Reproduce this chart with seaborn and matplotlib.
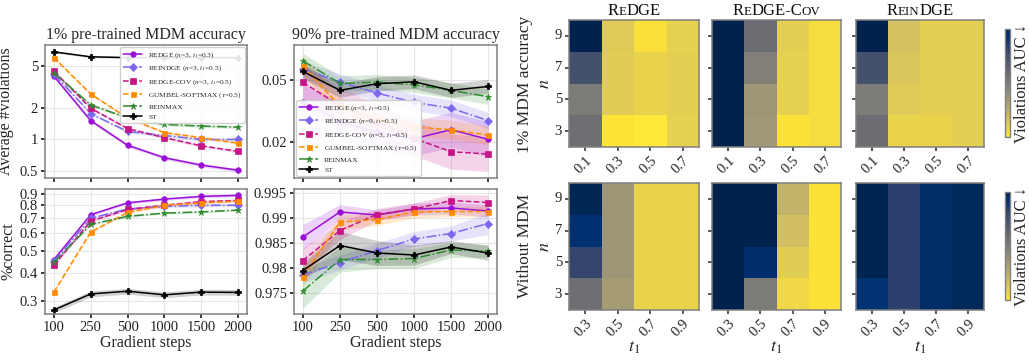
import numpy as np
import pandas as pd
import matplotlib
matplotlib.use("Agg")
import matplotlib.pyplot as plt
import seaborn as sns
from matplotlib.offsetbox import TextArea, HPacker, AnchoredOffsetbox
from matplotlib.ticker import FixedLocator, FixedFormatter, NullLocator

# ---------------- data ----------------
steps = ["100", "250", "500", "1000", "1500", "2000"]

# top-left: average #violations (1% MDM)
tl_redge = [4.0, 1.51, 0.88, 0.67, 0.57, 0.51]
tl_reindge = [4.2, 1.76, 1.19, 1.09, 1.0, 1.0]
tl_cov = [4.45, 1.98, 1.27, 1.04, 0.87, 0.77]
tl_gumbel = [6.0, 2.7, 1.6, 1.16, 1.04, 0.92]
tl_reinmax = [4.3, 2.13, 1.6, 1.39, 1.34, 1.31]
tl_st = [6.8, 6.1, 6.0, 6.0, 6.0, 6.0]
tl_band = [0.04, 0.03, 0.03, 0.03, 0.03, 0.02]  # relative half-width per series

# bottom-left: %correct (1% MDM)
bl_redge = [0.458, 0.726, 0.82, 0.852, 0.876, 0.885]
bl_reindge = [0.45, 0.70, 0.77, 0.79, 0.80, 0.80]
bl_cov = [0.432, 0.68, 0.766, 0.80, 0.83, 0.84]
bl_gumbel = [0.328, 0.608, 0.743, 0.80, 0.82, 0.835]
bl_reinmax = [0.445, 0.657, 0.714, 0.738, 0.747, 0.761]
bl_st = [0.273, 0.322, 0.331, 0.319, 0.328, 0.327]
bl_band = [0.015, 0.015, 0.015, 0.012, 0.01, 0.03]

# top-middle: average #violations (90% MDM)
tm_redge = [0.0363, 0.027, 0.023, 0.0209, 0.0239, 0.0207]
tm_reindge = [0.0592, 0.0488, 0.0414, 0.036, 0.033, 0.0274]
tm_cov = [0.0485, 0.0344, 0.027, 0.021, 0.0172, 0.0166]
tm_gumbel = [0.0623, 0.0339, 0.028, 0.0249, 0.0239, 0.022]
tm_reinmax = [0.067, 0.0478, 0.0488, 0.0468, 0.0431, 0.0392]
tm_st = [0.0572, 0.0431, 0.0476, 0.049, 0.0431, 0.0457]
tm_band = [0.30, 0.13, 0.30, 0.15, 0.12, 0.11]

# bottom-middle: %correct (90% MDM)
bm_redge = [0.9861, 0.9911, 0.9905, 0.9917, 0.9919, 0.9913]
bm_reindge = [0.9785, 0.9810, 0.9834, 0.9857, 0.9868, 0.9888]
bm_cov = [0.9814, 0.9874, 0.9906, 0.9917, 0.9934, 0.9930]
bm_gumbel = [0.9782, 0.9891, 0.9896, 0.9911, 0.9912, 0.9912]
bm_reinmax = [0.9753, 0.9816, 0.9816, 0.9818, 0.9835, 0.9833]
bm_st = [0.9794, 0.9844, 0.9829, 0.9825, 0.9841, 0.9829]
bm_err_redge = [0.0025, 0.0015, 0.0010, 0.0012, 0.0012, 0.0012]
bm_err_reindge = [0.0015, 0.0015, 0.0015, 0.0015, 0.0015, 0.0022]
bm_err_cov = [0.0025, 0.0018, 0.0012, 0.0012, 0.0012, 0.0015]
bm_err_gumbel = [0.0020, 0.0015, 0.0012, 0.0012, 0.0010, 0.0010]
bm_err_reinmax = [0.0035, 0.0025, 0.0018, 0.0020, 0.0015, 0.0013]
bm_err_st = [0.0015, 0.0028, 0.0025, 0.0020, 0.0013, 0.0015]

# heatmaps: normalised violations AUC, rows n = 9,7,5,3
n_vals = [9, 7, 5, 3]
t1_top = ["0.1", "0.3", "0.5", "0.7"]
t1_bot = ["0.3", "0.5", "0.7", "0.9"]
hm_top_redge = [[1.00, 0.12, 0.03, 0.09],
                [0.74, 0.11, 0.08, 0.10],
                [0.50, 0.11, 0.08, 0.10],
                [0.57, 0.01, 0.00, 0.09]]
hm_top_cov = [[1.00, 0.58, 0.10, 0.04],
              [1.00, 0.48, 0.09, 0.04],
              [1.00, 0.36, 0.09, 0.04],
              [1.00, 0.35, 0.02, 0.04]]
hm_top_rein = [[1.00, 0.16, 0.10, 0.10],
               [0.74, 0.14, 0.10, 0.10],
               [0.50, 0.12, 0.10, 0.10],
               [0.58, 0.08, 0.08, 0.10]]
hm_bot_redge = [[0.98, 0.36, 0.08, 0.08],
                [0.92, 0.36, 0.08, 0.08],
                [0.80, 0.36, 0.08, 0.08],
                [0.57, 0.33, 0.08, 0.08]]
hm_bot_cov = [[1.00, 1.00, 0.22, 0.02],
              [1.00, 1.00, 0.17, 0.02],
              [1.00, 0.93, 0.11, 0.02],
              [1.00, 0.50, 0.06, 0.02]]
hm_bot_rein = [[0.99, 0.83, 0.94, 0.97],
               [0.99, 0.83, 0.94, 0.97],
               [0.99, 0.83, 0.94, 0.97],
               [0.91, 0.83, 0.94, 0.97]]

# ---------------- style ----------------
sns.set_theme(style="whitegrid")
plt.rcParams["font.family"] = ["Liberation Serif", "DejaVu Serif"]
plt.rcParams["mathtext.fontset"] = "stix"
plt.rcParams["axes.edgecolor"] = "#808080"
plt.rcParams["axes.linewidth"] = 1.1
plt.rcParams["grid.color"] = "#e6e6e6"
plt.rcParams["grid.linewidth"] = 0.8
plt.rcParams["xtick.bottom"] = True
plt.rcParams["ytick.left"] = True
plt.rcParams["xtick.major.size"] = 3
plt.rcParams["ytick.major.size"] = 3
plt.rcParams["xtick.color"] = "#222222"
plt.rcParams["ytick.color"] = "#222222"

W, H = 1029, 362
fig = plt.figure(figsize=(W / 100, H / 100), dpi=100)


def add_ax(x0, y0, x1, y1):
    return fig.add_axes([x0 / W, 1 - y1 / H, (x1 - x0) / W, (y1 - y0) / H])


colors = {"redge": "#9b10d8", "reindge": "#7b68ee", "cov": "#c71585",
          "gumbel": "#ff8c00", "reinmax": "#2e8b2e", "st": "#000000"}
markers = {"redge": "o", "reindge": "D", "cov": "s", "gumbel": "s",
           "reinmax": "*", "st": "P"}
msizes = {"redge": 4, "reindge": 3.6, "cov": 4, "gumbel": 3.6, "reinmax": 4.5, "st": 4.5}
lstyles = {"redge": "-", "reindge": "-.", "cov": "--", "gumbel": "--",
           "reinmax": "-.", "st": "-"}
keys = ["redge", "reindge", "cov", "gumbel", "reinmax", "st"]
xpos = np.arange(len(steps))


def draw_panel(ax, series, lows, highs, labels):
    for k in keys:
        y = np.asarray(series[k])
        ax.fill_between(xpos, lows[k], highs[k], color=colors[k], alpha=0.18, lw=0)
        sns.lineplot(x=xpos, y=y, ax=ax, color=colors[k], marker=markers[k],
                     markersize=msizes[k], markeredgecolor=colors[k], markeredgewidth=0.5,
                     linestyle=lstyles[k], linewidth=1.1,
                     label=labels[k] if labels else None, legend=False)
    ax.set_xticks(xpos)
    ax.set_xlim(-0.24, 5.24)
    ax.tick_params(labelsize=10.5, pad=2)
    ax.set_xlabel("")
    ax.set_ylabel("")


def rel_band(series, rel):
    lo, hi = {}, {}
    for i, k in enumerate(keys):
        y = np.asarray(series[k])
        lo[k] = y / (1 + rel[i])
        hi[k] = y * (1 + rel[i])
    return lo, hi


lab_tl = {"redge": r"REDGE ($n$=3, $t_1$=0.3)", "reindge": r"REINDGE ($n$=3, $t_1$=0.5)",
          "cov": r"REDGE-COV ($n$=3, $t_1$=0.5)", "gumbel": r"GUMBEL-SOFTMAX ($\tau$=0.5)",
          "reinmax": "REINMAX", "st": "ST"}
lab_tm = {"redge": r"REDGE ($n$=3, $t_1$=0.5)", "reindge": r"REINDGE ($n$=9, $t_1$=0.5)",
          "cov": r"REDGE-COV ($n$=3, $t_1$=0.5)", "gumbel": r"GUMBEL-SOFTMAX ($\tau$=0.5)",
          "reinmax": "REINMAX", "st": "ST"}

# top-left
ax_tl = add_ax(45, 45, 247, 178)
s = dict(zip(keys, [tl_redge, tl_reindge, tl_cov, tl_gumbel, tl_reinmax, tl_st]))
lo, hi = rel_band(s, tl_band)
draw_panel(ax_tl, s, lo, hi, lab_tl)
ax_tl.set_yscale("log")
ax_tl.set_ylim(0.43, 7.9)
ax_tl.yaxis.set_major_locator(FixedLocator([0.5, 1, 2, 5]))
ax_tl.yaxis.set_major_formatter(FixedFormatter(["0.5", "1", "2", "5"]))
ax_tl.yaxis.set_minor_locator(NullLocator())
ax_tl.set_xticklabels([])
ax_tl.set_title("1% pre-trained MDM accuracy", fontsize=11.5, pad=4)
ax_tl.set_ylabel("Average #violations", fontsize=11.5, labelpad=4)
leg = ax_tl.legend(loc="upper right", fontsize=5.3, frameon=True, handlelength=2.6,
                   borderpad=0.4, labelspacing=0.5, borderaxespad=0.3, framealpha=0.9)
leg.get_frame().set_edgecolor("#cccccc")

# bottom-left
ax_bl = add_ax(45, 189, 247, 314)
s = dict(zip(keys, [bl_redge, bl_reindge, bl_cov, bl_gumbel, bl_reinmax, bl_st]))
lo, hi = rel_band(s, bl_band)
draw_panel(ax_bl, s, lo, hi, None)
ax_bl.set_yscale("log")
ax_bl.set_ylim(0.262, 0.945)
yt = [0.3, 0.4, 0.5, 0.6, 0.7, 0.8, 0.9]
ax_bl.yaxis.set_major_locator(FixedLocator(yt))
ax_bl.yaxis.set_major_formatter(FixedFormatter([str(v) for v in yt]))
ax_bl.yaxis.set_minor_locator(NullLocator())
ax_bl.set_xticklabels(steps)
ax_bl.set_xlabel("Gradient steps", fontsize=11.5, labelpad=1)
ax_bl.set_ylabel("%correct", fontsize=11.5, labelpad=2)

# top-middle
ax_tm = add_ax(294, 45, 497, 178)
s = dict(zip(keys, [tm_redge, tm_reindge, tm_cov, tm_gumbel, tm_reinmax, tm_st]))
lo, hi = rel_band(s, tm_band)
draw_panel(ax_tm, s, lo, hi, lab_tm)
ax_tm.set_yscale("log")
ax_tm.set_ylim(0.0116, 0.085)
ax_tm.yaxis.set_major_locator(FixedLocator([0.02, 0.05]))
ax_tm.yaxis.set_major_formatter(FixedFormatter(["0.02", "0.05"]))
ax_tm.yaxis.set_minor_locator(NullLocator())
ax_tm.set_xticklabels([])
ax_tm.set_title("90% pre-trained MDM accuracy", fontsize=11.5, pad=4)
leg = ax_tm.legend(loc="lower left", fontsize=5.3, frameon=True, handlelength=2.6,
                   borderpad=0.4, labelspacing=0.5, borderaxespad=0.3, framealpha=0.9)
leg.get_frame().set_edgecolor("#cccccc")

# bottom-middle
ax_bm = add_ax(294, 189, 497, 314)
s = dict(zip(keys, [bm_redge, bm_reindge, bm_cov, bm_gumbel, bm_reinmax, bm_st]))
errs = dict(zip(keys, [bm_err_redge, bm_err_reindge, bm_err_cov, bm_err_gumbel,
                       bm_err_reinmax, bm_err_st]))
lo = {k: np.asarray(s[k]) - np.asarray(errs[k]) for k in keys}
hi = {k: np.asarray(s[k]) + np.asarray(errs[k]) for k in keys}
draw_panel(ax_bm, s, lo, hi, None)
ax_bm.set_ylim(0.9707, 0.9957)
ax_bm.set_yticks([0.975, 0.98, 0.985, 0.99, 0.995])
ax_bm.set_yticklabels(["0.975", "0.98", "0.985", "0.99", "0.995"])
ax_bm.set_xticklabels(steps)
ax_bm.set_xlabel("Gradient steps", fontsize=11.5, labelpad=1)

# ---------------- heatmaps ----------------
def smallcaps_title(ax, parts, size=12):
    children = []
    for txt, small in parts:
        children.append(TextArea(txt, textprops=dict(fontsize=size * 0.78 if small else size,
                                                     family="Liberation Serif", color="#111111")))
    box = HPacker(children=children, align="baseline", pad=0, sep=0)
    anch = AnchoredOffsetbox(loc="lower center", child=box, pad=0, frameon=False,
                             bbox_to_anchor=(0.5, 1.01), bbox_transform=ax.transAxes,
                             borderpad=0)
    ax.add_artist(anch)


titles = [[("R", False), ("E", True), ("DGE", False)],
          [("R", False), ("E", True), ("DGE-C", False), ("OV", True)],
          [("R", False), ("EIN", True), ("DGE", False)]]

xs = [(569, 699), (712, 841), (856, 984)]
rows = [(20, 147, t1_top, [hm_top_redge, hm_top_cov, hm_top_rein]),
        (183, 310, t1_bot, [hm_bot_redge, hm_bot_cov, hm_bot_rein])]
cmap = "cividis_r"
for r, (y0, y1, t1labels, mats) in enumerate(rows):
    for c, ((x0, x1), m) in enumerate(zip(xs, mats)):
        ax = add_ax(x0, y0, x1, y1)
        df = pd.DataFrame(m, index=n_vals, columns=t1labels)
        sns.heatmap(df, ax=ax, cmap=cmap, vmin=0, vmax=1, cbar=False,
                    square=False, linewidths=0)
        for sp in ax.spines.values():
            sp.set_visible(True)
            sp.set_edgecolor("#808080")
            sp.set_linewidth(1.1)
        ax.tick_params(axis="both", length=3, labelsize=10.5, pad=2, color="#444444")
        ax.set_xticklabels(t1labels, rotation=45, ha="right", rotation_mode="anchor")
        if c == 0:
            ax.set_yticklabels([str(v) for v in n_vals], rotation=0)
            ax.set_ylabel("$n$", fontsize=13, labelpad=1)
        else:
            ax.set_yticklabels([])
            ax.set_ylabel("")
        if r == 1:
            ax.set_xlabel("$t_1$", fontsize=13, labelpad=0)
        else:
            ax.set_xlabel("")
            smallcaps_title(ax, titles[c], size=12)
    # colorbar
    cb_y = (29, 137) if r == 0 else (192, 300)
    cax = add_ax(1005, cb_y[0], 1010, cb_y[1])
    sm = matplotlib.cm.ScalarMappable(cmap=cmap, norm=matplotlib.colors.Normalize(0, 1))
    cb = fig.colorbar(sm, cax=cax)
    cb.set_ticks([])
    cb.outline.set_edgecolor("#808080")
    cb.outline.set_linewidth(1.0)
    cb.set_label("Violations AUC ↓", fontsize=12, labelpad=3)

fig.text(525 / W, 1 - 84 / H, "1% MDM accuracy", rotation=90, fontsize=12.5,
         ha="center", va="center")
fig.text(525 / W, 1 - 246 / H, "Without MDM", rotation=90, fontsize=12.5,
         ha="center", va="center")

fig.savefig("out.png", dpi=100)
